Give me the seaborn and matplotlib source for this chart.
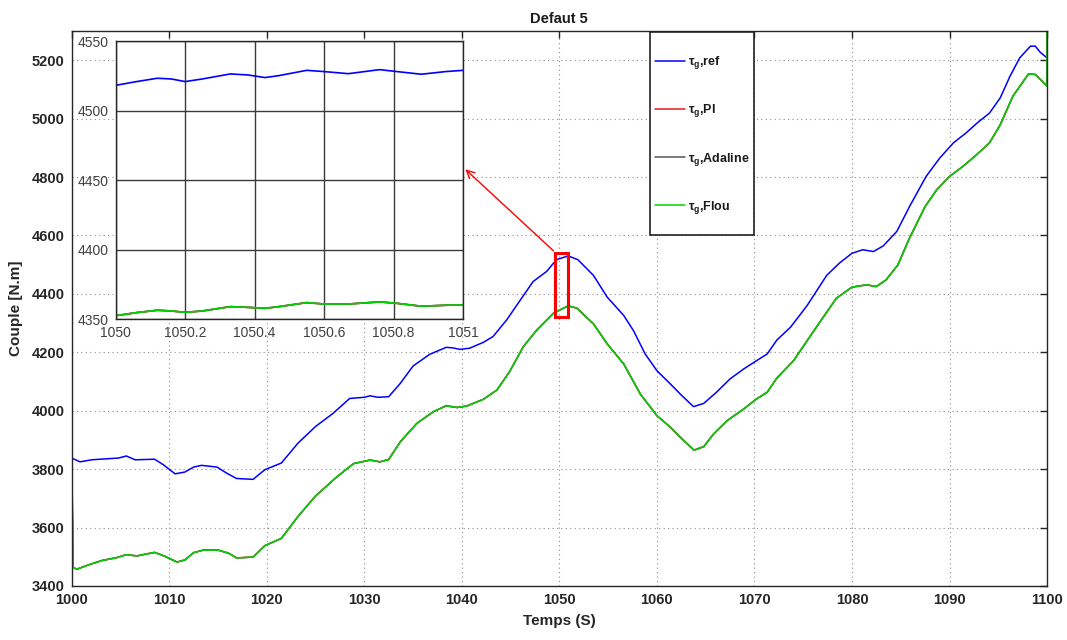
import matplotlib
matplotlib.use("Agg")
import matplotlib.pyplot as plt
import seaborn as sns
from matplotlib.patches import Rectangle
from matplotlib.ticker import FormatStrFormatter

# ---- generator torque, fault case 5 (main view, 1000-1100 s) ----
ref_t = [1000, 1000.85, 1002.05, 1003.4, 1004.8, 1005.6, 1006.5, 1008.5, 1009.4, 1010.6,
         1011.6, 1012.5, 1013.3, 1014.9, 1015.9, 1016.9, 1018.6, 1019.8, 1021.5, 1023.2,
         1025.0, 1026.8, 1028.5, 1030.0, 1030.6, 1031.4, 1032.5, 1033.7, 1035.0, 1036.7,
         1038.4, 1039.1, 1039.8, 1040.8, 1042.2, 1043.2, 1044.6, 1046.0, 1047.3, 1048.7,
         1049.7, 1050.9, 1051.9, 1053.5, 1054.9, 1056.6, 1057.6, 1058.8, 1060.0, 1061.4,
         1062.4, 1063.75, 1064.8, 1066.1, 1067.5, 1068.9, 1070.2, 1071.3, 1072.3, 1073.7,
         1075.4, 1077.4, 1078.7, 1080.0, 1081.1, 1082.2, 1083.2, 1084.6, 1085.9, 1087.6,
         1089.0, 1090.4, 1091.7, 1092.9, 1094.1, 1095.2, 1096.2, 1097.2, 1098.3, 1098.8,
         1099.3, 1100]
ref_vals = [3838, 3825, 3832, 3835, 3838, 3845, 3832, 3834, 3815, 3784,
            3790, 3807, 3813, 3807, 3786, 3768, 3765, 3798, 3821, 3889,
            3946, 3991, 4042, 4046, 4051, 4046, 4048, 4094, 4153, 4193,
            4217, 4215, 4210, 4214, 4234, 4254, 4311, 4379, 4442, 4477,
            4517, 4530, 4517, 4463, 4389, 4326, 4274, 4194, 4137, 4091,
            4057, 4014, 4025, 4063, 4109, 4143, 4171, 4194, 4242, 4286,
            4360, 4463, 4505, 4539, 4551, 4545, 4564, 4614, 4699, 4802,
            4865, 4917, 4951, 4987, 5019, 5071, 5145, 5208, 5248, 5248,
            5227, 5208]

ctrl_t = [1000, 1000.15, 1000.5, 1001.7, 1003.08, 1004.6, 1005.6, 1006.7, 1008.5, 1009.6,
          1010.8, 1011.6, 1012.5, 1013.5, 1015.0, 1016.1, 1016.9, 1018.6, 1019.8, 1021.5,
          1023.2, 1025.0, 1027.2, 1028.9, 1030.6, 1031.6, 1032.5, 1033.7, 1035.4, 1037.1,
          1038.4, 1039.5, 1040.5, 1042.2, 1043.6, 1044.9, 1046.3, 1047.7, 1049.4, 1050.9,
          1051.8, 1053.5, 1054.9, 1056.6, 1058.3, 1060.0, 1061.4, 1062.4, 1063.8, 1064.8,
          1065.8, 1067.2, 1068.9, 1070.2, 1071.3, 1072.3, 1074.0, 1076.0, 1077.4, 1078.4,
          1080.0, 1081.5, 1082.5, 1083.5, 1084.7, 1085.9, 1087.5, 1088.7, 1090.0, 1091.4,
          1092.8, 1094.1, 1095.2, 1096.5, 1098.1, 1098.8, 1099.5, 1100, 1100]
flou_vals = [3838, 3464, 3457, 3472, 3487, 3497, 3507, 3503, 3515, 3501,
             3482, 3489, 3514, 3523, 3523, 3512, 3496, 3499, 3538, 3563,
             3638, 3708, 3774, 3819, 3831, 3825, 3833, 3894, 3957, 3997,
             4017, 4011, 4016, 4039, 4071, 4134, 4219, 4277, 4334, 4359,
             4351, 4297, 4229, 4160, 4057, 3983, 3943, 3909, 3865, 3877,
             3920, 3966, 4006, 4040, 4063, 4112, 4171, 4269, 4337, 4385,
             4423, 4431, 4425, 4448, 4499, 4591, 4699, 4757, 4802, 4837,
             4877, 4917, 4979, 5077, 5153, 5151, 5128, 5111, 5400]
# PI and Adaline responses lie on top of the fuzzy one at this scale
pi_vals = list(flou_vals)
adaline_vals = list(flou_vals)

# ---- zoomed window 1050-1051 s ----
zoom_t = [1050, 1050.06, 1050.12, 1050.16, 1050.2, 1050.25, 1050.33, 1050.38, 1050.43,
          1050.47, 1050.55, 1050.6, 1050.67, 1050.76, 1050.81, 1050.88, 1050.95, 1051]
zoom_ref = [4518.3, 4521.0, 4523.4, 4522.9, 4521.0, 4522.9, 4526.5, 4525.8, 4523.9,
            4525.3, 4529.1, 4528.2, 4526.7, 4529.6, 4528.2, 4526.3, 4528.2, 4529.1]
zoom_flou = [4352.6, 4354.8, 4356.5, 4356.0, 4355.0, 4356.0, 4359.1, 4358.6, 4357.9,
             4359.1, 4362.0, 4361.0, 4361.0, 4362.5, 4361.5, 4359.4, 4360.1, 4360.3]
zoom_pi = list(zoom_flou)
zoom_adaline = list(zoom_flou)

labels = [r"τ$_{\mathbf{g}}$,ref", r"τ$_{\mathbf{g}}$,PI",
          r"τ$_{\mathbf{g}}$,Adaline", r"τ$_{\mathbf{g}}$,Flou"]
colors = ["#0000ff", "#e8191f", "#555555", "#00d400"]

x_ticks = list(range(1000, 1101, 10))
y_ticks = list(range(3400, 5201, 200))
zoom_xticks = [1050, 1050.2, 1050.4, 1050.6, 1050.8, 1051]
zoom_yticks = [4350, 4400, 4450, 4500, 4550]

sns.set_theme(style="white")
plt.rcParams["font.family"] = ["Liberation Sans", "DejaVu Sans"]
plt.rcParams["mathtext.fontset"] = "custom"
plt.rcParams["mathtext.bf"] = "Liberation Sans:bold"
plt.rcParams["mathtext.rm"] = "Liberation Sans"

W, H = 1067, 640
fig = plt.figure(figsize=(W / 100, H / 100), dpi=100)
ax = fig.add_axes([0.0672, 0.0844, 0.9141, 0.8672])

series = [(ref_t, ref_vals), (ctrl_t, pi_vals), (ctrl_t, adaline_vals), (ctrl_t, flou_vals)]
for (t, v), lab, col in zip(series, labels, colors):
    sns.lineplot(x=t, y=v, ax=ax, color=col, lw=1.1, sort=False, estimator=None, label=lab)

ax.set_xlim(1000, 1100)
ax.set_ylim(3400, 5300)
ax.set_xticks(x_ticks)
ax.set_yticks(y_ticks)
ax.grid(True, linestyle=(0, (1, 3)), color="#8c8c8c", linewidth=0.8)
ax.tick_params(direction="in", length=5, width=1, top=True, right=True,
               labelsize=10.5, colors="#262626", pad=5)
for lbl in ax.get_xticklabels() + ax.get_yticklabels():
    lbl.set_fontweight("bold")
for sp in ax.spines.values():
    sp.set_color("#262626")
    sp.set_linewidth(1)
ax.set_title("Defaut 5", fontweight="bold", fontsize=10.5, color="#1a1a1a", pad=6)
ax.set_xlabel("Temps (S)", fontweight="bold", fontsize=11, color="#262626", labelpad=5)
ax.set_ylabel("Couple [N.m]", fontweight="bold", fontsize=11, color="#262626", labelpad=6)

# legend: entries centred in a tall framed box
box_l, box_r, box_t, box_b = 650, 754, 32, 235
ax.add_patch(Rectangle((box_l / W, 1 - box_b / H), (box_r - box_l) / W,
                       (box_b - box_t) / H, transform=fig.transFigure, clip_on=False,
                       facecolor="white", edgecolor="#222222", lw=1.2, zorder=4.5))
leg = ax.legend(loc="center left", bbox_to_anchor=(box_l / W, 1 - 135 / H),
                bbox_transform=fig.transFigure, borderaxespad=0, frameon=False,
                fontsize=9, labelspacing=2.5, handlelength=2.4, handletextpad=0.25,
                borderpad=0.4)
leg.set_zorder(6)
for txt in leg.get_texts():
    txt.set_fontweight("bold")
    txt.set_color("#1a1a1a")

# zoom marker and arrow to the magnified window
ax.add_patch(Rectangle((1049.6, 4320), 1.3, 221, fill=False, edgecolor="red", lw=2.2, zorder=5))
ax.annotate("", xy=(1040.15, 4833), xytext=(1049.6, 4541),
            arrowprops=dict(arrowstyle="->", color="red", lw=1, mutation_scale=14), zorder=5)

# magnified window
axin = fig.add_axes([0.1084, 0.5011, 0.3255, 0.4344])
zoom_series = [zoom_ref, zoom_pi, zoom_adaline, zoom_flou]
for v, col in zip(zoom_series, colors):
    sns.lineplot(x=zoom_t, y=v, ax=axin, color=col, lw=1.2, sort=False, estimator=None)
axin.set_xlim(1050, 1051)
axin.set_ylim(4350, 4550)
axin.set_xticks(zoom_xticks)
axin.set_yticks(zoom_yticks)
axin.xaxis.set_major_formatter(FormatStrFormatter("%g"))
axin.grid(True, linestyle="-", color="#3a3a3a", linewidth=1)
axin.tick_params(length=0, labelsize=10, colors="#404040", pad=5)
axin.set_facecolor("white")
for sp in axin.spines.values():
    sp.set_color("#262626")
    sp.set_linewidth(1)

fig.savefig("out.png", dpi=100)
